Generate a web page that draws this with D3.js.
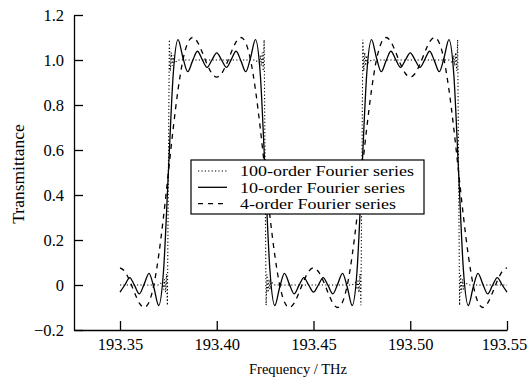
<!DOCTYPE html>
<html>
<head>
<meta charset="utf-8">
<script src="https://cdn.jsdelivr.net/npm/d3@7"></script>
<style>
  html, body { margin: 0; padding: 0; background: #fff; }
  svg { display: block; }
  text { font-family: "Liberation Serif", "Times New Roman", serif; fill: #000; }
</style>
</head>
<body>
<svg id="chart" width="528" height="382"></svg>
<script>
// ---------- data ----------
const freqGrid = [
  193.3500, 193.3525, 193.3550, 193.3575, 193.3600, 193.3625, 193.3650, 193.3675, 193.3700, 193.3725,
  193.3750, 193.3775, 193.3800, 193.3825, 193.3850, 193.3875, 193.3900, 193.3925, 193.3950, 193.3975,
  193.4000, 193.4025, 193.4050, 193.4075, 193.4100, 193.4125, 193.4150, 193.4175, 193.4200, 193.4225,
  193.4250, 193.4275, 193.4300, 193.4325, 193.4350, 193.4375, 193.4400, 193.4425, 193.4450, 193.4475,
  193.4500, 193.4525, 193.4550, 193.4575, 193.4600, 193.4625, 193.4650, 193.4675, 193.4700, 193.4725,
  193.4750, 193.4775, 193.4800, 193.4825, 193.4850, 193.4875, 193.4900, 193.4925, 193.4950, 193.4975,
  193.5000, 193.5025, 193.5050, 193.5075, 193.5100, 193.5125, 193.5150, 193.5175, 193.5200, 193.5225,
  193.5250, 193.5275, 193.5300, 193.5325, 193.5350, 193.5375, 193.5400, 193.5425, 193.5450, 193.5475,
  193.5500
];

const order10 = [
  -0.032, 0.000, 0.033, -0.002, -0.039, 0.004, 0.052, -0.011, -0.091, 0.063,
   0.500, 0.937, 1.091, 1.011, 0.948, 0.996, 1.039, 1.002, 0.967, 1.000,
   1.032, 1.000, 0.967, 1.002, 1.039, 0.996, 0.948, 1.011, 1.091, 0.937,
   0.500, 0.063, -0.091, -0.011, 0.052, 0.004, -0.039, -0.002, 0.033, 0.000,
  -0.032, 0.000, 0.033, -0.002, -0.039, 0.004, 0.052, -0.011, -0.091, 0.063,
   0.500, 0.937, 1.091, 1.011, 0.948, 0.996, 1.039, 1.002, 0.967, 1.000,
   1.032, 1.000, 0.967, 1.002, 1.039, 0.996, 0.948, 1.011, 1.091, 0.937,
   0.500, 0.063, -0.091, -0.011, 0.052, 0.004, -0.039, -0.002, 0.033, 0.000,
  -0.032
];

const order4 = [
   0.076, 0.060, 0.019, -0.034, -0.081, -0.100, -0.076, 0.001, 0.132, 0.304,
   0.500, 0.696, 0.868, 0.999, 1.076, 1.100, 1.081, 1.034, 0.981, 0.940,
   0.924, 0.940, 0.981, 1.034, 1.081, 1.100, 1.076, 0.999, 0.868, 0.696,
   0.500, 0.304, 0.132, 0.001, -0.076, -0.100, -0.081, -0.034, 0.019, 0.060,
   0.076, 0.060, 0.019, -0.034, -0.081, -0.100, -0.076, 0.001, 0.132, 0.304,
   0.500, 0.696, 0.868, 0.999, 1.076, 1.100, 1.081, 1.034, 0.981, 0.940,
   0.924, 0.940, 0.981, 1.034, 1.081, 1.100, 1.076, 0.999, 0.868, 0.696,
   0.500, 0.304, 0.132, 0.001, -0.076, -0.100, -0.081, -0.034, 0.019, 0.060,
   0.076
];

const freq100 = [
  193.3500, 193.3700, 193.3720, 193.3725, 193.3730, 193.3735, 193.3740, 193.3745,
  193.3750, 193.3755, 193.3760, 193.3765, 193.3770, 193.3775, 193.3780, 193.3800,
  193.4200, 193.4220, 193.4225, 193.4230, 193.4235, 193.4240, 193.4245,
  193.4250, 193.4255, 193.4260, 193.4265, 193.4270, 193.4275, 193.4280, 193.4300,
  193.4700, 193.4720, 193.4725, 193.4730, 193.4735, 193.4740, 193.4745,
  193.4750, 193.4755, 193.4760, 193.4765, 193.4770, 193.4775, 193.4780, 193.4800,
  193.5200, 193.5220, 193.5225, 193.5230, 193.5235, 193.5240, 193.5245,
  193.5250, 193.5255, 193.5260, 193.5265, 193.5270, 193.5275, 193.5280, 193.5300,
  193.5500
];
const order100 = [
  0.000, 0.000, 0.014, -0.020, 0.025, -0.033, 0.049, -0.090,
  0.500, 1.090, 0.951, 1.033, 0.975, 1.020, 0.986, 1.000,
  1.000, 0.986, 1.020, 0.975, 1.033, 0.951, 1.090,
  0.500, -0.090, 0.049, -0.033, 0.025, -0.020, 0.014, 0.000,
  0.000, 0.014, -0.020, 0.025, -0.033, 0.049, -0.090,
  0.500, 1.090, 0.951, 1.033, 0.975, 1.020, 0.986, 1.000,
  1.000, 0.986, 1.020, 0.975, 1.033, 0.951, 1.090,
  0.500, -0.090, 0.049, -0.033, 0.025, -0.020, 0.014, 0.000,
  0.000
];

const xTicks = [193.35, 193.40, 193.45, 193.50, 193.55];
const xTickLabels = ["193.35", "193.40", "193.45", "193.50", "193.55"];
const yTicks = [-0.2, 0, 0.2, 0.4, 0.6, 0.8, 1.0, 1.2];
const yTickLabels = ["\u22120.2", "0", "0.2", "0.4", "0.6", "0.8", "1.0", "1.2"];
const legendLabels = ["100-order Fourier series", "10-order Fourier series", "4-order Fourier series"];

// ---------- drawing ----------
const svg = d3.select("#chart");
const x = d3.scaleLinear().domain([193.35, 193.55]).range([120, 507]);
const xAxisScale = d3.scaleLinear().domain([x.invert(74), 193.55]).range([74, 507]);
const y = d3.scaleLinear().domain([-0.2, 1.2]).range([330, 15]);

const styles = [
  { dash: "1.2,2.2", width: 1.1 },
  { dash: null, width: 1.3 },
  { dash: "5,5", width: 1.3 }
];

const smoothLine = d3.line().x(d => x(d[0])).y(d => y(d[1])).curve(d3.curveMonotoneX);
const straightLine = d3.line().x(d => x(d[0])).y(d => y(d[1]));

const plot = svg.append("g");
plot.append("path")
  .attr("d", straightLine(freq100.map((f, i) => [f, order100[i]])))
  .attr("fill", "none").attr("stroke", "#000")
  .attr("stroke-width", styles[0].width).attr("stroke-dasharray", styles[0].dash);
plot.append("path")
  .attr("d", smoothLine(freqGrid.map((f, i) => [f, order4[i]])))
  .attr("fill", "none").attr("stroke", "#000")
  .attr("stroke-width", styles[2].width).attr("stroke-dasharray", styles[2].dash);
plot.append("path")
  .attr("d", smoothLine(freqGrid.map((f, i) => [f, order10[i]])))
  .attr("fill", "none").attr("stroke", "#000")
  .attr("stroke-width", styles[1].width);

// axes
const xAxis = d3.axisBottom(xAxisScale)
  .tickValues(xTicks)
  .tickFormat((d, i) => xTickLabels[i])
  .tickSize(-9).tickSizeOuter(0).tickPadding(8);
const gx = svg.append("g").attr("transform", "translate(0,330)").call(xAxis);

const yAxis = d3.axisLeft(y)
  .tickValues(yTicks)
  .tickFormat((d, i) => yTickLabels[i])
  .tickSize(-9).tickSizeOuter(0).tickPadding(10);
const gy = svg.append("g").attr("transform", "translate(74,0)").call(yAxis);

[gx, gy].forEach(g => {
  g.selectAll("path.domain").attr("stroke", "#000").attr("stroke-width", 1.3);
  g.selectAll(".tick line").attr("stroke", "#000").attr("stroke-width", 1.3);
  g.selectAll(".tick text")
    .style("font-family", "'Liberation Serif', 'Times New Roman', serif")
    .style("font-size", "16.5px").attr("fill", "#000");
});
// last x label sits slightly left of its tick, as in the reference
gx.selectAll(".tick text").filter((d, i) => i === xTicks.length - 1).attr("dx", "-3");

// axis titles
svg.append("text")
  .attr("x", 298).attr("y", 374)
  .attr("text-anchor", "middle")
  .style("font-size", "14.5px")
  .text("Frequency / THz");
svg.append("text")
  .attr("transform", "translate(24,174) rotate(-90)")
  .attr("text-anchor", "middle")
  .style("font-size", "17.5px")
  .text("Transmittance");

// legend
const lg = svg.append("g");
lg.append("rect")
  .attr("x", 191).attr("y", 160).attr("width", 233).attr("height", 54)
  .attr("fill", "#fff").attr("stroke", "#000").attr("stroke-width", 1.2);
const legendWidths = [174, 165, 156];
legendLabels.forEach((lab, i) => {
  const cy = 171 + i * 16.3;
  lg.append("line")
    .attr("x1", 198).attr("x2", 227).attr("y1", cy).attr("y2", cy)
    .attr("stroke", "#000").attr("stroke-width", styles[i].width)
    .attr("stroke-dasharray", styles[i].dash);
  lg.append("text")
    .attr("x", 240).attr("y", cy).attr("dy", "0.35em")
    .attr("textLength", legendWidths[i])
    .attr("lengthAdjust", "spacingAndGlyphs")
    .style("font-size", "15px")
    .text(lab);
});
</script>
</body>
</html>
